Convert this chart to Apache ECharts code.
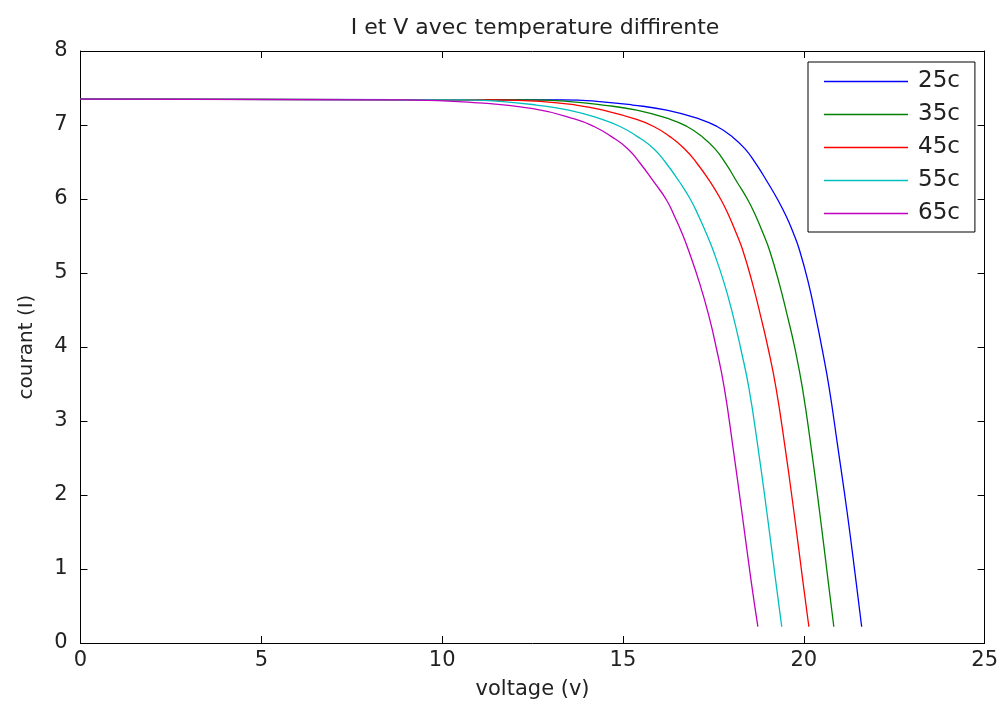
<!DOCTYPE html>
<html lang="fr">
<head>
    <meta charset="UTF-8">
    <title>I et V</title>
    <script src="https://cdn.jsdelivr.net/npm/echarts@6.0.0/dist/echarts.min.js"></script>
    <style>
        html, body { margin: 0; padding: 0; background: #fff; }
        #main { width: 1001px; height: 707px; }
    </style>
</head>
<body>
<div id="main"></div>
<script>
    // valeurs : tension (v) et courant (I) pour chaque temperature
    var names = ['25c', '35c', '45c', '55c', '65c'];
    var colors = ['#0000ff', '#008000', '#ff0000', '#00bfbf', '#bf00bf'];

    var iLevels = [7.35, 7.34, 7.32, 7.27, 7.20, 7.08, 6.98, 6.85, 6.68, 6.48, 6.24, 5.99, 5.76, 5.54, 5.31, 4.86, 4.41, 3.99, 3.45, 2.65, 1.76, 0.85, 0.22];

    var v25 = [0, 13.34, 14.28, 15.27, 16.21, 17.12, 17.60, 18.00, 18.37, 18.67, 18.98, 19.28, 19.52, 19.71, 19.88, 20.13, 20.33, 20.50, 20.70, 20.94, 21.20, 21.44, 21.60];
    var i25 = iLevels;

    var v35 = [0, 12.34, 13.45, 14.44, 15.38, 16.29, 16.77, 17.17, 17.54, 17.84, 18.14, 18.45, 18.68, 18.87, 19.05, 19.32, 19.55, 19.75, 19.96, 20.20, 20.44, 20.67, 20.83];
    var i35 = iLevels;

    var v45 = [0, 11.40, 12.71, 13.70, 14.45, 15.35, 15.85, 16.28, 16.70, 17.05, 17.40, 17.71, 17.94, 18.13, 18.31, 18.58, 18.81, 19.01, 19.23, 19.48, 19.73, 19.97, 20.14];
    var i45 = iLevels;

    var v55 = [0, 10.57, 11.60, 12.60, 13.50, 14.40, 14.92, 15.38, 15.85, 16.20, 16.55, 16.87, 17.10, 17.30, 17.49, 17.80, 18.05, 18.25, 18.48, 18.73, 18.98, 19.22, 19.39];
    var i55 = iLevels;

    var v65 = [0, 9.02, 11.00, 12.51, 13.68, 14.20, 14.66, 15.13, 15.48, 15.84, 16.20, 16.43, 16.63, 16.81, 17.12, 17.38, 17.58, 17.80, 18.04, 18.29, 18.54, 18.73];
    var i65 = [7.35, 7.34, 7.30, 7.22, 7.08, 6.98, 6.85, 6.68, 6.48, 6.24, 5.99, 5.76, 5.54, 5.31, 4.86, 4.41, 3.99, 3.45, 2.65, 1.76, 0.85, 0.22];

    var volts = [v25, v35, v45, v55, v65];
    var amps = [i25, i35, i45, i55, i65];

    function pairs(v, i) {
        var out = [];
        for (var k = 0; k < v.length; k++) {
            out.push([v[k], i[k]]);
        }
        return out;
    }

    function courbes() {
        var chart = echarts.init(document.getElementById('main'));
        var font = 'DejaVu Sans, sans-serif';
        var tick = { show: true, inside: true, length: 7, lineStyle: { color: '#000' } };
        var line = { show: true, onZero: false, lineStyle: { color: '#000', width: 1 } };

        var series = [];
        for (var s = 0; s < names.length; s++) {
            series.push({
                name: names[s],
                type: 'line',
                xAxisIndex: 0,
                yAxisIndex: 0,
                symbol: 'none',
                smooth: 0.5,
                lineStyle: { color: colors[s], width: 1.3 },
                itemStyle: { color: colors[s] },
                data: pairs(volts[s], amps[s])
            });
        }

        var option = {
            backgroundColor: '#fff',
            animation: false,
            title: {
                text: 'I et V avec temperature diffirente',
                left: 530,
                textAlign: 'center',
                top: 12,
                textStyle: { fontFamily: font, fontSize: 22, fontWeight: 'normal', color: '#222' }
            },
            legend: {
                orient: 'vertical',
                left: 808,
                top: 62,
                padding: [8, 15, 7, 16],
                itemGap: 10,
                itemWidth: 84,
                itemHeight: 23,
                icon: 'path://M0,0 L84,0 L84,1.6 L0,1.6 Z',
                borderColor: '#000',
                borderWidth: 1,
                backgroundColor: '#fff',
                data: names,
                textStyle: { fontFamily: font, fontSize: 23, color: '#222', padding: [0, 0, 0, 5] }
            },
            grid: { left: 80.5, right: 16, top: 51, bottom: 64, containLabel: false },
            xAxis: [
                {
                    type: 'value', position: 'bottom', min: 0, max: 25, interval: 5,
                    name: 'voltage (v)', nameLocation: 'middle', nameGap: 36,
                    nameTextStyle: { fontFamily: font, fontSize: 21, color: '#222' },
                    axisLine: line, axisTick: tick, splitLine: { show: false },
                    axisLabel: { fontFamily: font, fontSize: 21, color: '#222', margin: 7 }
                },
                {
                    type: 'value', position: 'top', min: 0, max: 25, interval: 5,
                    axisLine: line, axisTick: tick, splitLine: { show: false },
                    axisLabel: { show: false }
                }
            ],
            yAxis: [
                {
                    type: 'value', position: 'left', min: 0, max: 8, interval: 1,
                    name: 'courant (I)', nameLocation: 'middle', nameGap: 44, nameRotate: 90,
                    nameTextStyle: { fontFamily: font, fontSize: 20, color: '#222' },
                    axisLine: line, axisTick: tick, splitLine: { show: false },
                    axisLabel: { fontFamily: font, fontSize: 21, color: '#222', margin: 13 }
                },
                {
                    type: 'value', position: 'right', min: 0, max: 8, interval: 1,
                    axisLine: line, axisTick: tick, splitLine: { show: false },
                    axisLabel: { show: false }
                }
            ],
            series: series
        };
        chart.setOption(option);
    }
    courbes();
</script>
</body>
</html>
